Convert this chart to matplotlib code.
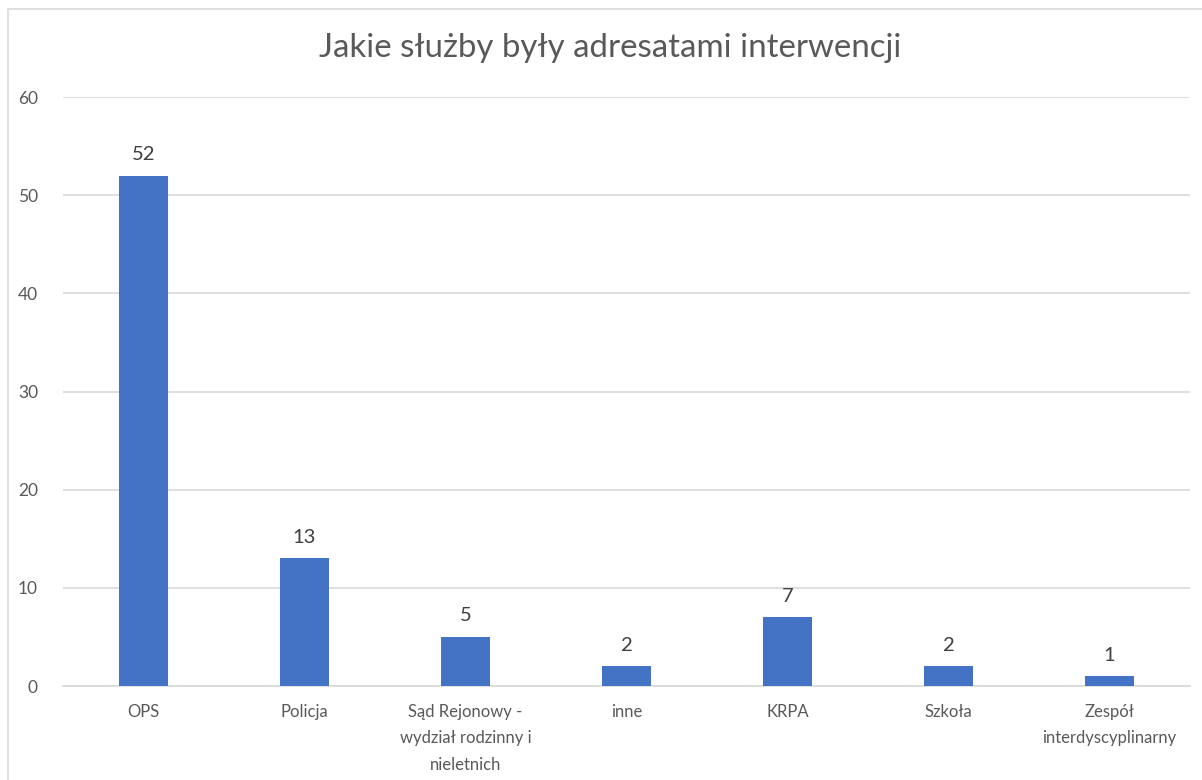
import numpy as np
import matplotlib
matplotlib.use('Agg')
import matplotlib.pyplot as plt
from matplotlib.patches import Rectangle

###  Data

categories = ['OPS', 'Policja', 'Sąd Rejonowy -\nwydział rodzinny i\nnieletnich', 'inne',
              'KRPA', 'Szkoła', 'Zespół\ninterdyscyplinarny']
values = [52, 13, 5, 2, 7, 2, 1]
y_ticks = [0, 10, 20, 30, 40, 50, 60]

title_str = 'Jakie służby były adresatami interwencji'

bar_color = '#4472C4'
text_color = '#595959'
grid_color = '#D9D9D9'

plt.rcParams['font.family'] = ['Lato', 'DejaVu Sans']

###  Plot

fig = plt.figure(figsize=(12.02, 7.8), dpi=100)
ax = fig.add_axes([0.0524, 0.1205, 0.9376, 0.7551])

x = np.arange(len(categories))
ax.bar(x, values, width=0.31, color=bar_color, zorder=3)

for xi, v in zip(x, values):
    ax.annotate(str(v), (xi, v), xytext=(0, 9), textcoords='offset points',
                ha='center', va='bottom', fontsize=14.5, color='#404040')

ax.set_xlim(-0.5, len(categories) - 0.5)
ax.set_ylim(0, 60)
ax.set_yticks(y_ticks)
ax.set_xticks(x)
ax.set_xticklabels(categories, fontsize=12, color=text_color, linespacing=1.8)
ax.tick_params(axis='y', labelsize=12.5, colors=text_color, length=0, pad=18)
ax.tick_params(axis='x', length=0, pad=13)

ax.yaxis.grid(True, color=grid_color, linewidth=1.2, zorder=0)
for s in ['top', 'right', 'left']:
    ax.spines[s].set_visible(False)
ax.spines['bottom'].set_color(grid_color)
ax.spines['bottom'].set_linewidth(1.2)

fig.text(0.508, 0.938, title_str, ha='center', va='center', fontsize=23.8, color=text_color)

# chart border
fig.patches.append(Rectangle((8 / 1202, -0.05), 1.05, 1 - 9 / 780 + 0.05,
                             transform=fig.transFigure, fill=False,
                             edgecolor='#D9D9D9', linewidth=1.2))

plt.savefig('out.png', dpi=100)
plt.close()
